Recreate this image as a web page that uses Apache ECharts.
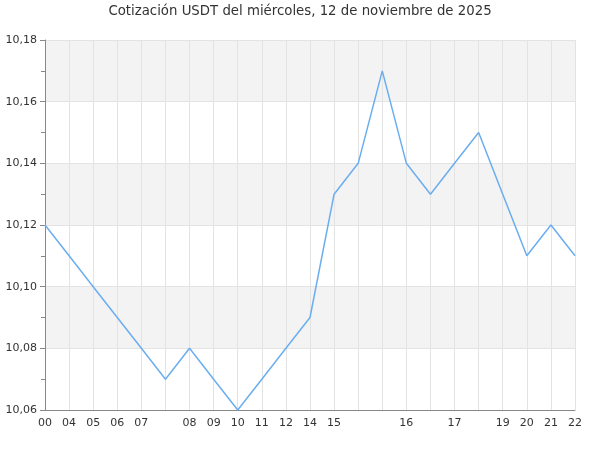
<!DOCTYPE html>
<html><head><meta charset="utf-8">
<script src="https://cdn.jsdelivr.net/npm/echarts@6/dist/echarts.min.js"></script>
<style>html,body{margin:0;padding:0;background:#fff}#c{width:600px;height:450px}</style>
</head><body><div id="c"></div>
<script>
var categories = ["00:00","04:00","05:00","06:00","07:00","07:30","08:00","09:00","10:00","11:00","12:00","14:00","15:00","15:20","15:40","16:00","16:30","17:00","17:30","19:00","20:00","21:00","22:00"];
var values = [10.12,10.11,10.10,10.09,10.08,10.07,10.08,10.07,10.06,10.07,10.08,10.09,10.13,10.14,10.17,10.14,10.13,10.14,10.15,10.13,10.11,10.12,10.11];
var titleText = "Cotización USDT del miércoles, 12 de noviembre de 2025";
var yMin = 10.06, yMax = 10.18, yStep = 0.02;

var chart = echarts.init(document.getElementById('c'));
chart.setOption({
  animation: false,
  textStyle: {fontFamily: 'DejaVu Sans'},
  title: {text: titleText, left: 'center', top: 0, textStyle: {fontSize: 13.3, fontWeight: 'normal', color: '#333', fontFamily: 'DejaVu Sans'}},
  grid: {left: 45, right: 25, top: 40, bottom: 40, containLabel: false},
  xAxis: {
    type: 'category', boundaryGap: false, data: categories,
    axisLine: {lineStyle: {color: '#888'}},
    axisTick: {show: false},
    axisLabel: {interval: 0, color: '#333', fontSize: 11, margin: 8,
      formatter: function (v, i) {
        var h = v.slice(0, 2);
        if (i > 0 && categories[i - 1].slice(0, 2) === h) return '';
        return h;
      }},
    splitLine: {show: true, lineStyle: {color: '#e3e3e3'}}
  },
  yAxis: {
    type: 'value', min: yMin, max: yMax, interval: yStep,
    axisLine: {show: true, lineStyle: {color: '#888'}},
    axisTick: {show: true, length: 5, lineStyle: {color: '#888'}},
    minorTick: {show: true, splitNumber: 2, length: 4, lineStyle: {color: '#888'}},
    axisLabel: {color: '#333', fontSize: 11, margin: 8,
      formatter: function (v) { return v.toFixed(2).replace('.', ','); }},
    splitLine: {show: true, lineStyle: {color: '#e3e3e3'}},
    splitArea: {show: true, areaStyle: {color: ['#ffffff', '#f3f3f3']}}
  },
  series: [{
    type: 'line', data: values, showSymbol: false, symbol: 'none',
    lineStyle: {color: '#6aaef0', width: 1.5}, itemStyle: {color: '#6aaef0'}
  }]
});
</script></body></html>
